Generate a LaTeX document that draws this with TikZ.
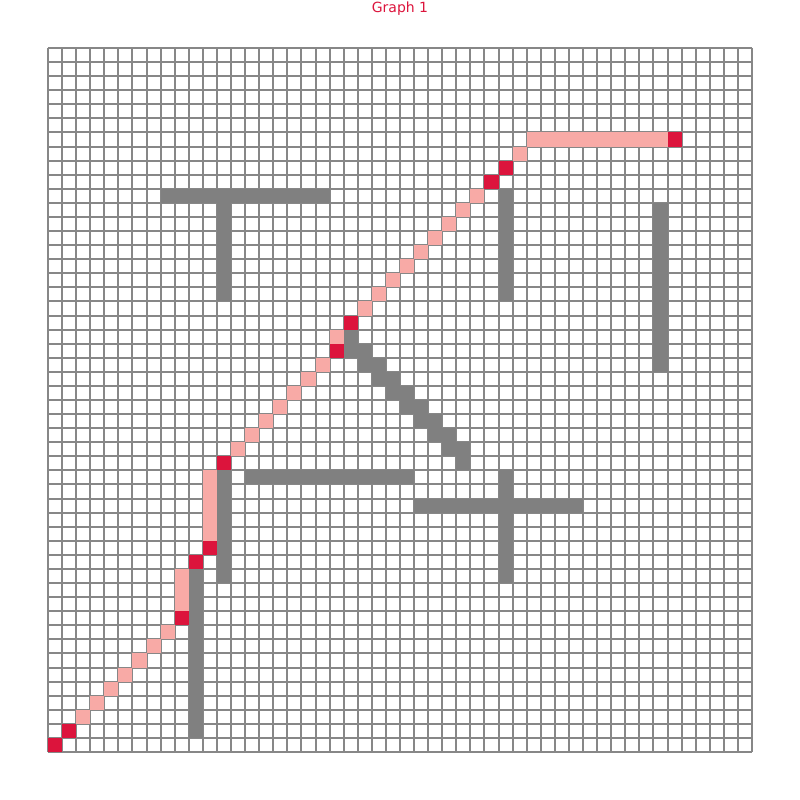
\documentclass[tikz,border=0pt]{standalone}
\usepackage{fontspec}
\setmainfont{DejaVu Sans}
\usepackage{tikz}
\usetikzlibrary{positioning}
\definecolor{wallgray}{RGB}{128,128,128}
\definecolor{linegray}{RGB}{135,135,135}
\definecolor{trail}{RGB}{248,170,166}
\definecolor{crim}{RGB}{220,20,60}

\begin{document}
\begin{tikzpicture}[
  x=14.08pt, y=-14.08pt,
  gridline/.style={draw=linegray, line width=2pt},
  wallcell/.style={fill=wallgray},
  pathcell/.style={fill=trail},
  keycell/.style={fill=crim},
  heading/.style={text=crim, font=\fontsize{14}{16}\selectfont, anchor=base},
]
\useasboundingbox (-3.409,-3.409) rectangle (53.409,53.409);

% grid
\foreach \i in {0,...,50} {
  \draw[gridline] (\i,0) -- (\i,50);
  \draw[gridline] (0,\i) -- (50,\i);
}

% walls
\fill[wallcell] (8,10) rectangle (20,11);
\fill[wallcell] (12,11) rectangle (13,18);
\fill[wallcell] (32,10) rectangle (33,18);
\fill[wallcell] (43,11) rectangle (44,23);
\foreach \c in {21,...,29}
  \fill[wallcell] (\c,\c-1) rectangle (\c+1,\c+1);
\fill[wallcell] (12,30) rectangle (13,38);
\fill[wallcell] (14,30) rectangle (26,31);
\fill[wallcell] (32,30) rectangle (33,38);
\fill[wallcell] (26,32) rectangle (38,33);
\fill[wallcell] (10,37) rectangle (11,49);

% path
\foreach \c in {2,...,8}
  \fill[pathcell] (\c,49-\c) rectangle ++(1,1);
\fill[pathcell] (9,37) rectangle (10,40);
\fill[pathcell] (11,30) rectangle (12,35);
\foreach \c in {13,...,19}
  \fill[pathcell] (\c,41-\c) rectangle ++(1,1);
\fill[pathcell] (20,20) rectangle ++(1,1);
\foreach \c in {22,...,30}
  \fill[pathcell] (\c,40-\c) rectangle ++(1,1);
\fill[pathcell] (33,7) rectangle ++(1,1);
\fill[pathcell] (34,6) rectangle (44,7);

% turning points
\foreach \c/\r in {0/49,1/48,9/40,10/36,11/35,12/29,20/21,21/19,31/9,32/8,44/6}
  \fill[keycell] (\c,\r) rectangle ++(1,1);

\node[heading] (title) at (25,-2.52) {Graph 1};
\end{tikzpicture}
\end{document}
